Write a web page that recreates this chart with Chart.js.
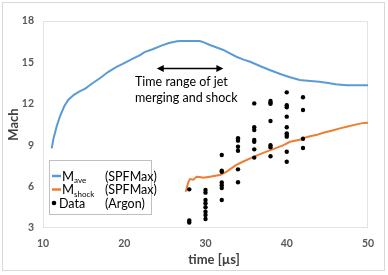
<!DOCTYPE html>
<html>
<head>
<meta charset="utf-8">
<script src="https://cdn.jsdelivr.net/npm/chart.js@4.4.0/dist/chart.umd.min.js"></script>
<style>
  html, body { margin: 0; padding: 0; background: #fff; }
  #wrap { width: 388px; height: 275px; }
</style>
</head>
<body>
<div id="wrap"><canvas id="machChart" width="388" height="275"></canvas></div>
<script>
// M_ave (SPFMax) curve
const aveTime = [11.07, 11.3, 11.7, 12.1, 12.6, 13.1, 13.8, 14.5, 15.2, 16, 17, 18, 19, 20, 21, 22, 22.5, 23.5, 24.5, 25.5, 26.5, 27, 29.3, 29.8, 30.55, 31.3, 32.2, 33, 33.8, 34.6, 35.5, 36.7, 37.9, 39.2, 40.4, 41.6, 42.9, 44, 44.9, 46, 47.4, 50];
const aveMach = [8.77, 9.5, 10.4, 11.1, 11.8, 12.28, 12.65, 12.9, 13.1, 13.45, 13.85, 14.3, 14.65, 14.95, 15.25, 15.55, 15.75, 15.95, 16.2, 16.4, 16.53, 16.55, 16.55, 16.45, 16.26, 16.1, 15.9, 15.65, 15.41, 15.22, 15.05, 14.74, 14.45, 14.16, 13.92, 13.72, 13.65, 13.6, 13.53, 13.42, 13.34, 13.34];

// M_shock (SPFMax) curve
const shockTime = [27.56, 27.9, 28.1, 28.5, 28.9, 29.3, 29.7, 30.55, 31.4, 31.8, 32.6, 33, 33.8, 34.6, 35.5, 36.5, 37.5, 38.5, 39.6, 40.4, 41.6, 42.5, 43.7, 44.5, 45.5, 46.55, 47.5, 48.6, 49.3, 50];
const shockMach = [5.63, 6.35, 6.55, 6.5, 6.72, 6.7, 6.65, 6.72, 6.8, 6.84, 7.08, 7.25, 7.57, 7.8, 8.05, 8.3, 8.53, 8.75, 9.0, 9.25, 9.4, 9.6, 9.75, 9.9, 10.05, 10.22, 10.35, 10.51, 10.6, 10.63];

// Data (Argon), one time per point
const argonTime = [28, 28, 28,
  30, 30, 30, 30, 30, 30, 30, 30,
  32, 32, 32, 32, 32, 32, 32,
  34, 34, 34, 34, 34, 34,
  36, 36, 36, 36, 36, 36, 36,
  38, 38, 38, 38, 38, 38, 38,
  40, 40, 40, 40, 40, 40, 40, 40, 40, 40,
  42, 42, 42, 42];
const argonMach = [5.8, 3.55, 3.4,
  5.75, 5.56, 5.03, 4.79, 4.5, 4.18, 3.94, 3.65,
  8.29, 7.15, 7.08, 6.3, 6.1, 5.9, 5.03,
  9.5, 9.33, 8.89, 8.6, 7.25, 6.31,
  12.03, 10.3, 10.1, 9.38, 9.25, 8.7, 8.1,
  12.2, 12.08, 12.0, 10.75, 9.0, 8.85, 8.2,
  12.83, 11.9, 11.75, 11.07, 10.3, 9.86, 9.74, 9.62, 8.53, 7.8,
  12.47, 11.55, 9.47, 8.8];

const xTicks = [10, 20, 30, 40, 50];
const yTicks = [3, 6, 9, 12, 15, 18];

const blue = '#5B9BD5';
const orange = '#ED7D31';
const fontName = 'Lato, "Open Sans", sans-serif';

function pairs(xs, ys) {
  return xs.map((x, i) => ({ x: x, y: ys[i] }));
}

// frame, arrow, text box and legend
const extras = {
  id: 'extras',
  beforeDraw(chart) {
    const ctx = chart.ctx;
    const a = chart.chartArea;
    ctx.save();
    ctx.strokeStyle = '#d9d9d9';
    ctx.lineWidth = 1;
    ctx.strokeRect(2.5, 2.5, 382, 268);
    ctx.strokeStyle = '#e3e3e3';
    ctx.strokeRect(a.left + 0.5, a.top + 0.5, a.right - a.left - 1, a.bottom - a.top - 1);
    ctx.restore();
  },
  afterDraw(chart) {
    const ctx = chart.ctx;
    const xs = chart.scales.x;
    const ys = chart.scales.y;
    ctx.save();

    // double arrow
    const x1 = xs.getPixelForValue(24.0);
    const x2 = xs.getPixelForValue(32.2);
    const ay = Math.round(ys.getPixelForValue(14.57)) + 0.5;
    ctx.strokeStyle = '#000';
    ctx.fillStyle = '#000';
    ctx.lineWidth = 1.5;
    ctx.beginPath();
    ctx.moveTo(x1 + 5, ay);
    ctx.lineTo(x2 - 5, ay);
    ctx.stroke();
    ctx.beginPath();
    ctx.moveTo(x1, ay); ctx.lineTo(x1 + 7, ay - 3.5); ctx.lineTo(x1 + 7, ay + 3.5); ctx.closePath();
    ctx.fill();
    ctx.beginPath();
    ctx.moveTo(x2, ay); ctx.lineTo(x2 - 7, ay - 3.5); ctx.lineTo(x2 - 7, ay + 3.5); ctx.closePath();
    ctx.fill();

    // text
    ctx.font = '12.5px ' + fontName;
    ctx.textAlign = 'left';
    ctx.textBaseline = 'middle';
    ctx.fillText('Time range of jet', 135, 82);
    ctx.fillText('merging and shock', 135, 98);

    // x axis title
    ctx.font = 'bold 13px ' + fontName;
    ctx.fillStyle = '#404040';
    ctx.textAlign = 'center';
    ctx.fillText('time [µs]', 214, 260);

    // legend
    ctx.fillStyle = '#fff';
    ctx.fillRect(49, 160, 103, 55);
    ctx.strokeStyle = '#bfbfbf';
    ctx.lineWidth = 1;
    ctx.strokeRect(49.5, 160.5, 102, 54);

    const rows = [176, 189.5, 203];
    ctx.lineWidth = 2.5;
    ctx.strokeStyle = blue;
    ctx.beginPath(); ctx.moveTo(52, rows[0]); ctx.lineTo(61, rows[0]); ctx.stroke();
    ctx.strokeStyle = orange;
    ctx.beginPath(); ctx.moveTo(52, rows[1]); ctx.lineTo(61, rows[1]); ctx.stroke();
    ctx.fillStyle = '#000';
    ctx.beginPath(); ctx.arc(54, rows[2], 2.3, 0, Math.PI * 2); ctx.fill();

    ctx.textAlign = 'left';
    ctx.textBaseline = 'alphabetic';
    ctx.fillStyle = '#000';
    ctx.font = '13px ' + fontName;
    ctx.fillText('M', 62, rows[0] + 4.5);
    ctx.fillText('M', 62, rows[1] + 4.5);
    ctx.font = '8px ' + fontName;
    ctx.fillText('ave', 74, rows[0] + 7);
    ctx.fillText('shock', 74, rows[1] + 7);
    ctx.font = '12.5px ' + fontName;
    ctx.fillText('(SPFMax)', 105, rows[0] + 4.5);
    ctx.fillText('(SPFMax)', 105, rows[1] + 4.5);
    ctx.fillText('Data', 59, rows[2] + 4.5);
    ctx.fillText('(Argon)', 105, rows[2] + 4.5);

    ctx.restore();
  }
};

const ctx = document.getElementById('machChart').getContext('2d');
new Chart(ctx, {
  type: 'scatter',
  data: {
    datasets: [
      {
        label: 'Data (Argon)',
        data: pairs(argonTime, argonMach),
        backgroundColor: '#000',
        borderColor: '#000',
        pointRadius: 2.2,
        pointBorderWidth: 0,
        order: 1
      },
      {
        label: 'M_ave (SPFMax)',
        type: 'line',
        data: pairs(aveTime, aveMach),
        borderColor: blue,
        borderWidth: 2,
        pointRadius: 0,
        fill: false,
        order: 2
      },
      {
        label: 'M_shock (SPFMax)',
        type: 'line',
        data: pairs(shockTime, shockMach),
        borderColor: orange,
        borderWidth: 2,
        pointRadius: 0,
        fill: false,
        order: 2
      }
    ]
  },
  options: {
    responsive: false,
    animation: false,
    layout: { padding: { left: 0, top: 21, right: 20, bottom: 0 } },
    plugins: {
      legend: { display: false },
      tooltip: { enabled: false }
    },
    scales: {
      x: {
        type: 'linear',
        min: 10,
        max: 50,
        afterBuildTicks: (scale) => { scale.ticks = xTicks.map(v => ({ value: v })); },
        afterFit: (scale) => { scale.height = 47; },
        grid: { display: false, drawTicks: false },
        border: { display: false },
        ticks: {
          padding: 9,
          color: '#595959',
          font: { family: fontName, size: 10.5, weight: 'bold' }
        },
        title: { display: false }
      },
      y: {
        type: 'linear',
        min: 3,
        max: 18,
        afterBuildTicks: (scale) => { scale.ticks = yTicks.map(v => ({ value: v })); },
        afterFit: (scale) => { scale.width = 43; },
        grid: { display: false, drawTicks: false },
        border: { display: false },
        ticks: {
          padding: 9,
          color: '#595959',
          font: { family: fontName, size: 10.5, weight: 'bold' }
        },
        title: {
          display: true,
          text: 'Mach',
          color: '#404040',
          padding: { top: 6, bottom: 0 },
          font: { family: fontName, size: 13, weight: 'bold' }
        }
      }
    }
  },
  plugins: [extras]
});
</script>
</body>
</html>
